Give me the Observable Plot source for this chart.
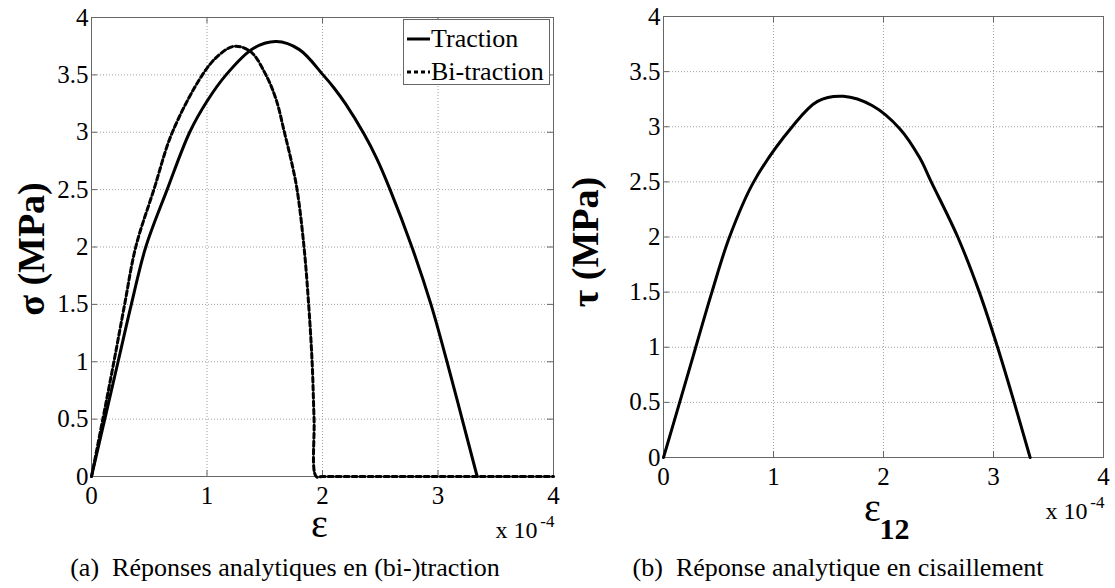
<!DOCTYPE html>
<html>
<head>
<meta charset="utf-8">
<script src="https://cdn.jsdelivr.net/npm/d3@7"></script>
<script src="https://cdn.jsdelivr.net/npm/@observablehq/plot@0.6"></script>
<style>
  body { margin: 0; background: #fff; }
  #wrap { position: relative; width: 1115px; height: 588px; overflow: hidden; color: #000; }
  #wrap, #wrap * { font-family: "Liberation Serif", serif; }
  .panel { position: absolute; top: 0; }
  .cap { position: absolute; font-size: 26px; line-height: 30px; white-space: nowrap; transform: translateX(-50%); }
  .legend { position: absolute; left: 403px; top: 19px; width: 145px; height: 64px;
            border: 1px solid #666; background: #fff; font-size: 26px; }
  .legend .row { position: absolute; left: 3px; height: 30px; display: flex; align-items: center; }
  .legend svg { margin-right: 1px; }
</style>
</head>
<body>
<div id="wrap"></div>
<script>
// ---- data (strain in units of 1e-4, stress in MPa) ----
const tractionStrain = [0, 0.115, 0.23, 0.345, 0.47, 0.655, 0.85, 1.0, 1.165, 1.4, 1.6, 1.8, 2.005, 2.1, 2.2, 2.36, 2.47, 2.585, 2.774, 2.939, 3.078, 3.209, 3.339];
const tractionStress = [0, 0.5, 1, 1.5, 2, 2.5, 3, 3.27, 3.5, 3.73, 3.79, 3.72, 3.5, 3.386, 3.247, 2.984, 2.77, 2.5, 2, 1.5, 1, 0.5, 0];

const biStrain = [0, 0.098, 0.194, 0.287, 0.383, 0.54, 0.70, 0.96, 1.1, 1.24, 1.38, 1.51, 1.60, 1.67, 1.73, 1.78, 1.84, 1.88, 1.91, 1.927, 1.945, 2.0, 4];
const biStress   = [0, 0.5, 1, 1.5, 2, 2.5, 3, 3.5, 3.67, 3.75, 3.70, 3.5, 3.28, 3.0, 2.75, 2.5, 2.0, 1.5, 1.0, 0.5, 0, 0, 0];

const shearStrain = [0, 0.147, 0.293, 0.44, 0.60, 0.82, 1.17, 1.4, 1.635, 1.9, 2.15, 2.328, 2.434, 2.675, 2.871, 3.037, 3.188, 3.333];
const shearStress = [0, 0.5, 1, 1.5, 2, 2.5, 3, 3.23, 3.276, 3.19, 2.98, 2.72, 2.5, 2, 1.5, 1, 0.5, 0];

const xTicks = [0, 1, 2, 3, 4];
const yTicks = [0, 0.5, 1, 1.5, 2, 2.5, 3, 3.5, 4];
const xTickLabels = ["0", "1", "2", "3", "4"];
const yTickLabels = ["0", "0.5", "1", "1.5", "2", "2.5", "3", "3.5", "4"];

const seriesNames = ["Traction", "Bi-traction"];
const captions = ["(a)\u2002Réponses analytiques en (bi-)traction", "(b)\u2002Réponse analytique en cisaillement"];

const FONT = "Liberation Serif";
const toRows = (xs, ys) => xs.map((x, i) => ({x, y: ys[i]}));

function panel({width, height, mL, mR, mT, mB, series, yLabel, yLabelDx, yLabelDy, xLabel, xSub}) {
  const plotW = width - mL - mR, plotH = height - mT - mB;
  const fmtX = d => xTickLabels[xTicks.indexOf(d)];
  const fmtY = d => yTickLabels[yTicks.indexOf(d)];
  const marks = [
    Plot.gridX(xTicks, {stroke: "#a0a0a0", strokeOpacity: 1, strokeDasharray: "1,2"}),
    Plot.gridY(yTicks, {stroke: "#a0a0a0", strokeOpacity: 1, strokeDasharray: "1,2"}),
    Plot.tickX(xTicks, {x: d => d, insetTop: plotH - 6, stroke: "#666"}),
    Plot.tickX(xTicks, {x: d => d, insetBottom: plotH - 6, stroke: "#666"}),
    Plot.tickY(yTicks, {y: d => d, insetRight: plotW - 6, stroke: "#666"}),
    Plot.tickY(yTicks, {y: d => d, insetLeft: plotW - 6, stroke: "#666"}),
    Plot.frame({stroke: "#666"}),
    Plot.axisX(xTicks, {anchor: "bottom", tickSize: 0, tickPadding: 10, fontSize: 25, tickFormat: fmtX, label: null}),
    Plot.axisY(yTicks, {anchor: "left", tickSize: 0, tickPadding: 3, fontSize: 25, tickFormat: fmtY, label: null}),
    ...series.map(s => Plot.line(s.data, {x: "x", y: "y", curve: "catmull-rom", stroke: "#000",
        strokeWidth: 3, strokeDasharray: s.dash || null, strokeLinejoin: "round"})),
    Plot.text([yLabel], {text: d => d, frameAnchor: "left", dx: yLabelDx, dy: yLabelDy, rotate: -90,
        textAnchor: "middle", lineAnchor: "middle", fontSize: 38, fontWeight: "bold"}),
    Plot.text([xLabel], {text: d => d, frameAnchor: "bottom", dx: xSub ? -11 : -3, dy: xSub ? 63 : 60,
        textAnchor: "middle", lineAnchor: "bottom", fontSize: 40}),
    Plot.text(["x 10"], {text: d => d, frameAnchor: "bottom-right", dx: -16, dy: 61,
        textAnchor: "end", lineAnchor: "bottom", fontSize: 24}),
    Plot.text(["-4"], {text: d => d, frameAnchor: "bottom-right", dx: 1, dy: 50,
        textAnchor: "end", lineAnchor: "bottom", fontSize: 17})
  ];
  if (xSub) marks.push(Plot.text([xSub], {text: d => d, frameAnchor: "bottom", dx: -4, dy: 81,
        textAnchor: "start", lineAnchor: "bottom", fontSize: 30, fontWeight: "bold"}));
  return Plot.plot({
    width, height, marginLeft: mL, marginRight: mR, marginTop: mT, marginBottom: mB,
    x: {domain: [0, 4], axis: null},
    y: {domain: [0, 4], axis: null},
    style: {fontFamily: FONT, background: "transparent", color: "#000"},
    marks
  });
}

const wrap = document.getElementById("wrap");

const left = panel({
  width: 560, height: 588, mL: 91, mR: 7, mT: 17, mB: 112,
  series: [{data: toRows(tractionStrain, tractionStress)}, {data: toRows(biStrain, biStress), dash: "5,3"}],
  yLabel: "σ (MPa)", yLabelDx: -60, yLabelDy: 2, xLabel: "ε"
});
left.classList.add("panel"); left.style.left = "0px";
wrap.appendChild(left);

const right = panel({
  width: 555, height: 588, mL: 103, mR: 12, mT: 16, mB: 131,
  series: [{data: toRows(shearStrain, shearStress)}],
  yLabel: "τ (MPa)", yLabelDx: -78, yLabelDy: 5, xLabel: "ε", xSub: "12"
});
right.classList.add("panel"); right.style.left = "560px";
wrap.appendChild(right);

// legend
const leg = document.createElement("div");
leg.className = "legend";
seriesNames.forEach((name, i) => {
  const row = document.createElement("div");
  row.className = "row";
  row.style.top = (i === 0 ? 4 : 37) + "px";
  row.innerHTML = `<svg width="23" height="10"><line x1="0" x2="23" y1="5" y2="5" stroke="#000" stroke-width="3" ${i === 1 ? 'stroke-dasharray="4,3"' : ''}/></svg><span>${name}</span>`;
  leg.appendChild(row);
});
wrap.appendChild(leg);

// captions
[[285, captions[0]], [838, captions[1]]].forEach(([cx, t]) => {
  const c = document.createElement("div");
  c.className = "cap";
  c.style.left = cx + "px";
  c.style.top = "553px";
  c.textContent = t;
  wrap.appendChild(c);
});
</script>
</body>
</html>
